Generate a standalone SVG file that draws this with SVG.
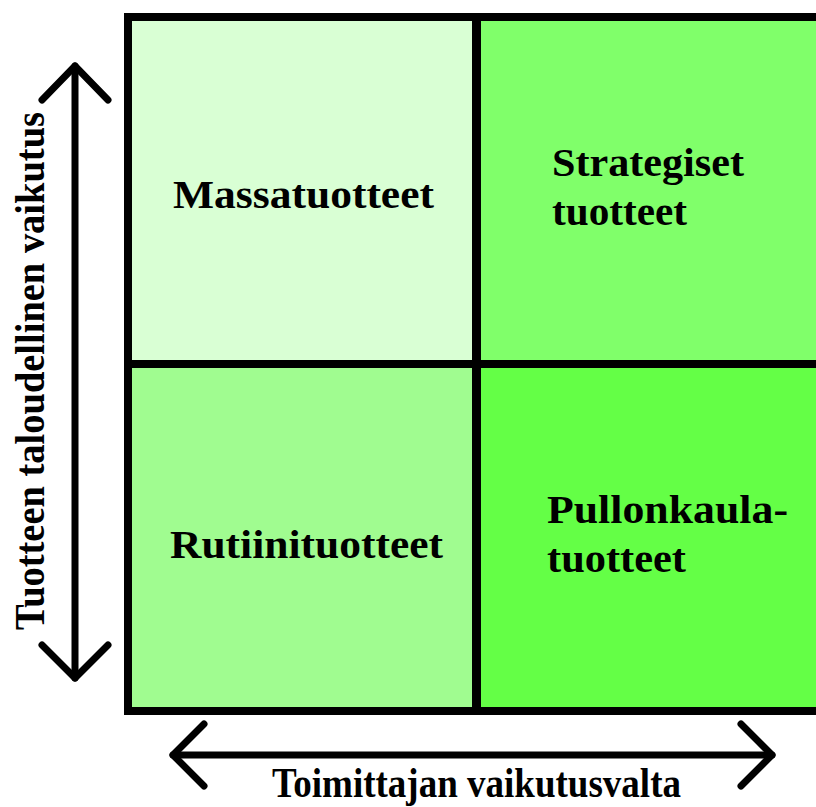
<svg xmlns="http://www.w3.org/2000/svg" width="816" height="807" viewBox="0 0 816 807">
<style>
.q{stroke:none}
.lbl{font-family:"Liberation Serif","Times New Roman",serif;font-weight:bold;fill:#000}
.ql{font-size:39px}
.ax{font-size:43px}
.arr{fill:none;stroke:#000;stroke-width:7;stroke-linecap:round;stroke-linejoin:round}
</style>
<rect width="816" height="807" fill="#fff"/>
<g id="q-massa">
<rect class="q" x="128" y="17" width="348.5" height="347" fill="#D9FFD4"/>
<text class="lbl ql" x="173" y="208" textLength="261" lengthAdjust="spacingAndGlyphs">Massatuotteet</text>
</g>
<g id="q-strategiset">
<rect class="q" x="476.5" y="17" width="360" height="347" fill="#80FF6A"/>
<text class="lbl ql" x="552" y="176" textLength="192" lengthAdjust="spacingAndGlyphs">Strategiset</text>
<text class="lbl ql" x="552" y="225" textLength="135" lengthAdjust="spacingAndGlyphs">tuotteet</text>
</g>
<g id="q-rutiini">
<rect class="q" x="128" y="364" width="348.5" height="347" fill="#A0FC90"/>
<text class="lbl ql" x="170" y="558" textLength="273" lengthAdjust="spacingAndGlyphs">Rutiinituotteet</text>
</g>
<g id="q-pullonkaula">
<rect class="q" x="476.5" y="364" width="360" height="347" fill="#64FF46"/>
<text class="lbl ql" x="547" y="523" textLength="241" lengthAdjust="spacingAndGlyphs">Pullonkaula-</text>
<text class="lbl ql" x="547" y="572" textLength="139" lengthAdjust="spacingAndGlyphs">tuotteet</text>
</g>
<g id="grid" fill="none" stroke="#000">
<rect x="128" y="17" width="720" height="694" stroke-width="8"/>
<line x1="476.5" y1="17" x2="476.5" y2="711" stroke-width="9"/>
<line x1="128" y1="364" x2="848" y2="364" stroke-width="8"/>
</g>
<g id="connectors">
<g id="axis-y">
<line class="arr" x1="75" y1="66" x2="75" y2="678"/>
<polyline class="arr" points="42,100 75,66 108,100"/>
<polyline class="arr" points="42,645 75,678 108,645"/>
</g>
<g id="axis-x">
<line class="arr" x1="173" y1="755" x2="772" y2="755"/>
<polyline class="arr" points="204,724 173,755 204,786"/>
<polyline class="arr" points="741,724 772,755 741,786"/>
</g>
</g>
<g id="axis-labels">
<text class="lbl ax" x="476.5" y="797" text-anchor="middle" textLength="409" lengthAdjust="spacingAndGlyphs">Toimittajan vaikutusvalta</text>
<text class="lbl ax" transform="translate(44,371) rotate(-90)" x="0" y="0" text-anchor="middle" textLength="518" lengthAdjust="spacingAndGlyphs">Tuotteen taloudellinen vaikutus</text>
</g>
</svg>
